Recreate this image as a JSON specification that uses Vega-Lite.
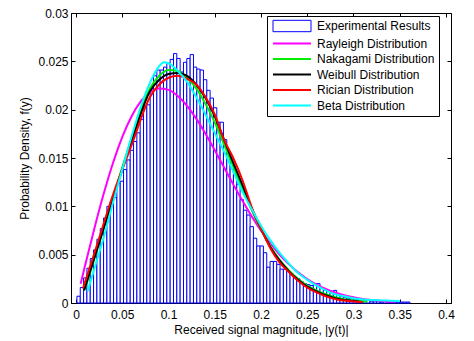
{
  "$schema": "https://vega.github.io/schema/vega-lite/v6.json",
  "width": 380,
  "height": 290,
  "autosize": {"type": "none"},
  "padding": {"left": 71, "top": 13, "right": 23, "bottom": 38},
  "background": "white",
  "datasets": {
    "hist": [
      {"lo":0.001,"hi":0.0046,"h":0.0007},{"lo":0.0046,"hi":0.0082,"h":0.0016},{"lo":0.0082,"hi":0.0118,"h":0.0026},{"lo":0.0118,"hi":0.0154,"h":0.0036},{"lo":0.0154,"hi":0.019,"h":0.0046},
      {"lo":0.019,"hi":0.0226,"h":0.0055},{"lo":0.0226,"hi":0.0262,"h":0.0066},{"lo":0.0262,"hi":0.0298,"h":0.0077},{"lo":0.0298,"hi":0.0334,"h":0.0088},{"lo":0.0334,"hi":0.037,"h":0.0100},
      {"lo":0.037,"hi":0.0406,"h":0.0105},{"lo":0.0406,"hi":0.0442,"h":0.0109},{"lo":0.0442,"hi":0.0478,"h":0.0124},{"lo":0.0478,"hi":0.0514,"h":0.0126},{"lo":0.0514,"hi":0.055,"h":0.0138},
      {"lo":0.055,"hi":0.0586,"h":0.0148},{"lo":0.0586,"hi":0.0622,"h":0.0158},{"lo":0.0622,"hi":0.0658,"h":0.0167},{"lo":0.0658,"hi":0.0694,"h":0.0176},{"lo":0.0694,"hi":0.073,"h":0.0190},
      {"lo":0.073,"hi":0.0766,"h":0.0203},{"lo":0.0766,"hi":0.0802,"h":0.0205},{"lo":0.0802,"hi":0.0838,"h":0.0223},{"lo":0.0838,"hi":0.0874,"h":0.0235},{"lo":0.0874,"hi":0.091,"h":0.0241},
      {"lo":0.091,"hi":0.0946,"h":0.0241},{"lo":0.0946,"hi":0.0982,"h":0.0244},{"lo":0.0982,"hi":0.1018,"h":0.0248},{"lo":0.1018,"hi":0.1054,"h":0.0252},{"lo":0.1054,"hi":0.109,"h":0.0258},
      {"lo":0.109,"hi":0.1126,"h":0.0253},{"lo":0.1126,"hi":0.1162,"h":0.0239},{"lo":0.1162,"hi":0.1198,"h":0.0249},{"lo":0.1198,"hi":0.1234,"h":0.0253},{"lo":0.1234,"hi":0.127,"h":0.0257},
      {"lo":0.127,"hi":0.1306,"h":0.0244},{"lo":0.1306,"hi":0.1342,"h":0.0242},{"lo":0.1342,"hi":0.1378,"h":0.0241},{"lo":0.1378,"hi":0.1414,"h":0.0231},{"lo":0.1414,"hi":0.145,"h":0.0220},
      {"lo":0.145,"hi":0.1486,"h":0.0212},{"lo":0.1486,"hi":0.1522,"h":0.0202},{"lo":0.1522,"hi":0.1558,"h":0.0187},{"lo":0.1558,"hi":0.1594,"h":0.0187},{"lo":0.1594,"hi":0.163,"h":0.0169},
      {"lo":0.163,"hi":0.1666,"h":0.0155},{"lo":0.1666,"hi":0.1702,"h":0.0145},{"lo":0.1702,"hi":0.1738,"h":0.0133},{"lo":0.1738,"hi":0.1774,"h":0.0123},{"lo":0.1774,"hi":0.181,"h":0.0107},
      {"lo":0.181,"hi":0.1846,"h":0.0096},{"lo":0.1846,"hi":0.1882,"h":0.0091},{"lo":0.1882,"hi":0.1918,"h":0.0079},{"lo":0.1918,"hi":0.1954,"h":0.0067},{"lo":0.1954,"hi":0.199,"h":0.0059},
      {"lo":0.199,"hi":0.2026,"h":0.0059},{"lo":0.2026,"hi":0.2062,"h":0.0052},{"lo":0.2062,"hi":0.2098,"h":0.0037},{"lo":0.2098,"hi":0.2134,"h":0.0043},{"lo":0.2134,"hi":0.217,"h":0.0043},
      {"lo":0.217,"hi":0.2206,"h":0.0040},{"lo":0.2206,"hi":0.2242,"h":0.0035},{"lo":0.2242,"hi":0.2278,"h":0.0035},{"lo":0.2278,"hi":0.2314,"h":0.0033},{"lo":0.2314,"hi":0.235,"h":0.0030},
      {"lo":0.235,"hi":0.2386,"h":0.0027},{"lo":0.2386,"hi":0.2422,"h":0.0025},{"lo":0.2422,"hi":0.2458,"h":0.0022},{"lo":0.2458,"hi":0.2494,"h":0.0020},{"lo":0.2494,"hi":0.253,"h":0.0019},
      {"lo":0.253,"hi":0.2566,"h":0.0018},{"lo":0.2566,"hi":0.2602,"h":0.0020},{"lo":0.2602,"hi":0.2638,"h":0.0020},{"lo":0.2638,"hi":0.2674,"h":0.0016},{"lo":0.2674,"hi":0.271,"h":0.0013},
      {"lo":0.271,"hi":0.2746,"h":0.0012},{"lo":0.2746,"hi":0.2782,"h":0.0012},{"lo":0.2782,"hi":0.2818,"h":0.0013},{"lo":0.2818,"hi":0.2854,"h":0.0008},{"lo":0.2854,"hi":0.289,"h":0.0007},
      {"lo":0.289,"hi":0.2926,"h":0.0006},{"lo":0.2926,"hi":0.2962,"h":0.0005},{"lo":0.2962,"hi":0.2998,"h":0.0005},{"lo":0.2998,"hi":0.3034,"h":0.0004},{"lo":0.3034,"hi":0.307,"h":0.0004},
      {"lo":0.307,"hi":0.3106,"h":0.0003},{"lo":0.3106,"hi":0.3142,"h":0.0003},{"lo":0.3142,"hi":0.3178,"h":0.0003},{"lo":0.3178,"hi":0.3214,"h":0.0002},{"lo":0.3214,"hi":0.325,"h":0.0002},
      {"lo":0.325,"hi":0.3286,"h":0.0002},{"lo":0.3286,"hi":0.3322,"h":0.0001},{"lo":0.3322,"hi":0.3358,"h":0.0002},{"lo":0.3358,"hi":0.3394,"h":0.0001},{"lo":0.3394,"hi":0.343,"h":0.0001},
      {"lo":0.343,"hi":0.3466,"h":0.0001},{"lo":0.3466,"hi":0.3502,"h":0.0001},{"lo":0.3502,"hi":0.3538,"h":0.0001},{"lo":0.3538,"hi":0.3574,"h":0.0001},{"lo":0.3574,"hi":0.361,"h":0.0001}
    ],
    "curves": [
      {"d":"Rayleigh Distribution","x":0.005,"y":0.00199},{"d":"Rayleigh Distribution","x":0.01,"y":0.00396},{"d":"Rayleigh Distribution","x":0.02,"y":0.00777},{"d":"Rayleigh Distribution","x":0.03,"y":0.01132},{"d":"Rayleigh Distribution","x":0.04,"y":0.01448},{"d":"Rayleigh Distribution","x":0.05,"y":0.01717},{"d":"Rayleigh Distribution","x":0.06,"y":0.0193},{"d":"Rayleigh Distribution","x":0.07,"y":0.02086},{"d":"Rayleigh Distribution","x":0.08,"y":0.02182},{"d":"Rayleigh Distribution","x":0.09,"y":0.0222},{"d":"Rayleigh Distribution","x":0.1,"y":0.02205},{"d":"Rayleigh Distribution","x":0.11,"y":0.02142},{"d":"Rayleigh Distribution","x":0.12,"y":0.0204},{"d":"Rayleigh Distribution","x":0.13,"y":0.01907},{"d":"Rayleigh Distribution","x":0.14,"y":0.01751},{"d":"Rayleigh Distribution","x":0.15,"y":0.0158},{"d":"Rayleigh Distribution","x":0.16,"y":0.01404},{"d":"Rayleigh Distribution","x":0.17,"y":0.01227},{"d":"Rayleigh Distribution","x":0.18,"y":0.01057},{"d":"Rayleigh Distribution","x":0.19,"y":0.00896},{"d":"Rayleigh Distribution","x":0.2,"y":0.00749},{"d":"Rayleigh Distribution","x":0.21,"y":0.00618},{"d":"Rayleigh Distribution","x":0.22,"y":0.00502},{"d":"Rayleigh Distribution","x":0.23,"y":0.00402},{"d":"Rayleigh Distribution","x":0.24,"y":0.00318},{"d":"Rayleigh Distribution","x":0.25,"y":0.00248},{"d":"Rayleigh Distribution","x":0.26,"y":0.00191},{"d":"Rayleigh Distribution","x":0.27,"y":0.00145},{"d":"Rayleigh Distribution","x":0.28,"y":0.00109},{"d":"Rayleigh Distribution","x":0.29,"y":0.0008},{"d":"Rayleigh Distribution","x":0.3,"y":0.00059},{"d":"Rayleigh Distribution","x":0.31,"y":0.00042},{"d":"Rayleigh Distribution","x":0.32,"y":0.0003},{"d":"Rayleigh Distribution","x":0.33,"y":0.0002},{"d":"Rayleigh Distribution","x":0.345,"y":0.00012},
      {"d":"Nakagami Distribution","x":0.0095,"y":0.0014},{"d":"Nakagami Distribution","x":0.02,"y":0.0046},{"d":"Nakagami Distribution","x":0.04,"y":0.0109},{"d":"Nakagami Distribution","x":0.06,"y":0.017},{"d":"Nakagami Distribution","x":0.08,"y":0.0222},{"d":"Nakagami Distribution","x":0.09,"y":0.0235},{"d":"Nakagami Distribution","x":0.1,"y":0.0241},{"d":"Nakagami Distribution","x":0.11,"y":0.024},{"d":"Nakagami Distribution","x":0.12,"y":0.0233},{"d":"Nakagami Distribution","x":0.13,"y":0.0222},{"d":"Nakagami Distribution","x":0.14,"y":0.0206},{"d":"Nakagami Distribution","x":0.15,"y":0.0187},{"d":"Nakagami Distribution","x":0.16,"y":0.0164},{"d":"Nakagami Distribution","x":0.17,"y":0.0141},{"d":"Nakagami Distribution","x":0.18,"y":0.0118},{"d":"Nakagami Distribution","x":0.19,"y":0.0096},{"d":"Nakagami Distribution","x":0.2,"y":0.0076},{"d":"Nakagami Distribution","x":0.21,"y":0.0059},{"d":"Nakagami Distribution","x":0.22,"y":0.0045},{"d":"Nakagami Distribution","x":0.23,"y":0.0034},{"d":"Nakagami Distribution","x":0.24,"y":0.0025},{"d":"Nakagami Distribution","x":0.25,"y":0.0018},{"d":"Nakagami Distribution","x":0.26,"y":0.0013},{"d":"Nakagami Distribution","x":0.27,"y":0.0009},{"d":"Nakagami Distribution","x":0.28,"y":0.0006},{"d":"Nakagami Distribution","x":0.29,"y":0.0004},{"d":"Nakagami Distribution","x":0.3,"y":0.00025},{"d":"Nakagami Distribution","x":0.315,"y":0.00015},
      {"d":"Weibull Distribution","x":0.0087,"y":0.0013},{"d":"Weibull Distribution","x":0.02,"y":0.0047},{"d":"Weibull Distribution","x":0.04,"y":0.0108},{"d":"Weibull Distribution","x":0.06,"y":0.0167},{"d":"Weibull Distribution","x":0.08,"y":0.0219},{"d":"Weibull Distribution","x":0.09,"y":0.0231},{"d":"Weibull Distribution","x":0.1,"y":0.0237},{"d":"Weibull Distribution","x":0.11,"y":0.0238},{"d":"Weibull Distribution","x":0.12,"y":0.0235},{"d":"Weibull Distribution","x":0.13,"y":0.0226},{"d":"Weibull Distribution","x":0.14,"y":0.0212},{"d":"Weibull Distribution","x":0.15,"y":0.0193},{"d":"Weibull Distribution","x":0.16,"y":0.0169},{"d":"Weibull Distribution","x":0.17,"y":0.0145},{"d":"Weibull Distribution","x":0.18,"y":0.0122},{"d":"Weibull Distribution","x":0.19,"y":0.0098},{"d":"Weibull Distribution","x":0.2,"y":0.0077},{"d":"Weibull Distribution","x":0.21,"y":0.0058},{"d":"Weibull Distribution","x":0.22,"y":0.0044},{"d":"Weibull Distribution","x":0.23,"y":0.0033},{"d":"Weibull Distribution","x":0.24,"y":0.0024},{"d":"Weibull Distribution","x":0.25,"y":0.0017},{"d":"Weibull Distribution","x":0.26,"y":0.0012},{"d":"Weibull Distribution","x":0.27,"y":0.0008},{"d":"Weibull Distribution","x":0.28,"y":0.0005},{"d":"Weibull Distribution","x":0.29,"y":0.0003},{"d":"Weibull Distribution","x":0.3,"y":0.0002},{"d":"Weibull Distribution","x":0.306,"y":0.00015},
      {"d":"Rician Distribution","x":0.0075,"y":0.0015},{"d":"Rician Distribution","x":0.02,"y":0.0052},{"d":"Rician Distribution","x":0.04,"y":0.0112},{"d":"Rician Distribution","x":0.06,"y":0.0163},{"d":"Rician Distribution","x":0.08,"y":0.0213},{"d":"Rician Distribution","x":0.09,"y":0.0226},{"d":"Rician Distribution","x":0.1,"y":0.0233},{"d":"Rician Distribution","x":0.11,"y":0.0235},{"d":"Rician Distribution","x":0.12,"y":0.0232},{"d":"Rician Distribution","x":0.13,"y":0.0226},{"d":"Rician Distribution","x":0.14,"y":0.0213},{"d":"Rician Distribution","x":0.15,"y":0.0195},{"d":"Rician Distribution","x":0.16,"y":0.0169},{"d":"Rician Distribution","x":0.17,"y":0.015},{"d":"Rician Distribution","x":0.18,"y":0.0127},{"d":"Rician Distribution","x":0.19,"y":0.0099},{"d":"Rician Distribution","x":0.2,"y":0.0077},{"d":"Rician Distribution","x":0.21,"y":0.0057},{"d":"Rician Distribution","x":0.22,"y":0.0042},{"d":"Rician Distribution","x":0.23,"y":0.0032},{"d":"Rician Distribution","x":0.24,"y":0.0023},{"d":"Rician Distribution","x":0.25,"y":0.0016},{"d":"Rician Distribution","x":0.26,"y":0.0011},{"d":"Rician Distribution","x":0.27,"y":0.0007},{"d":"Rician Distribution","x":0.28,"y":0.0004},{"d":"Rician Distribution","x":0.29,"y":0.00025},{"d":"Rician Distribution","x":0.3,"y":0.00015},{"d":"Rician Distribution","x":0.31,"y":0.0001},
      {"d":"Beta Distribution","x":0.0125,"y":0.0012},{"d":"Beta Distribution","x":0.02,"y":0.0036},{"d":"Beta Distribution","x":0.03,"y":0.0068},{"d":"Beta Distribution","x":0.04,"y":0.0104},{"d":"Beta Distribution","x":0.05,"y":0.0138},{"d":"Beta Distribution","x":0.06,"y":0.0172},{"d":"Beta Distribution","x":0.07,"y":0.0203},{"d":"Beta Distribution","x":0.08,"y":0.0228},{"d":"Beta Distribution","x":0.09,"y":0.0245},{"d":"Beta Distribution","x":0.095,"y":0.0249},{"d":"Beta Distribution","x":0.1,"y":0.0248},{"d":"Beta Distribution","x":0.11,"y":0.024},{"d":"Beta Distribution","x":0.12,"y":0.0229},{"d":"Beta Distribution","x":0.13,"y":0.0213},{"d":"Beta Distribution","x":0.14,"y":0.0195},{"d":"Beta Distribution","x":0.15,"y":0.0176},{"d":"Beta Distribution","x":0.16,"y":0.0157},{"d":"Beta Distribution","x":0.17,"y":0.0136},{"d":"Beta Distribution","x":0.18,"y":0.0115},{"d":"Beta Distribution","x":0.19,"y":0.0097},{"d":"Beta Distribution","x":0.2,"y":0.008},{"d":"Beta Distribution","x":0.21,"y":0.0065},{"d":"Beta Distribution","x":0.22,"y":0.0052},{"d":"Beta Distribution","x":0.23,"y":0.0041},{"d":"Beta Distribution","x":0.24,"y":0.0031},{"d":"Beta Distribution","x":0.25,"y":0.0024},{"d":"Beta Distribution","x":0.26,"y":0.0018},{"d":"Beta Distribution","x":0.27,"y":0.0013},{"d":"Beta Distribution","x":0.28,"y":0.0009},{"d":"Beta Distribution","x":0.29,"y":0.0007},{"d":"Beta Distribution","x":0.3,"y":0.0005},{"d":"Beta Distribution","x":0.32,"y":0.0003},{"d":"Beta Distribution","x":0.35,"y":0.0002}
    ]
  },
  "layer": [
    {
      "data": {"name": "hist"},
      "mark": {"type": "bar", "fill": "white", "strokeWidth": 1, "cornerRadius": 0, "orient": "vertical"},
      "encoding": {
        "x": {"field": "lo", "type": "quantitative",
              "scale": {"domain": [0, 0.4], "nice": false, "zero": false},
              "axis": {"orient": "bottom", "values": [0,0.05,0.1,0.15,0.2,0.25,0.3,0.35,0.4], "format": "~g", "title": "Received signal magnitude, |y(t)|", "titlePadding": 4, "labelPadding": 10}},
        "x2": {"field": "hi"},
        "y": {"field": "h", "type": "quantitative",
              "scale": {"domain": [0, 0.03], "nice": false},
              "axis": {"orient": "left", "values": [0,0.005,0.01,0.015,0.02,0.025,0.03], "format": "~g", "title": "Probability Density, f(y)", "titlePadding": 6}},
        "y2": {"datum": 0},
        "stroke": {"datum": "Experimental Results", "type": "nominal"}
      }
    },
    {
      "data": {"name": "curves"},
      "mark": {"type": "line", "strokeWidth": 2, "interpolate": "monotone"},
      "encoding": {
        "x": {"field": "x", "type": "quantitative",
              "axis": {"orient": "top", "values": [0,0.05,0.1,0.15,0.2,0.25,0.3,0.35,0.4], "labels": false, "title": null, "domain": false}},
        "y": {"field": "y", "type": "quantitative",
              "axis": {"orient": "right", "values": [0,0.005,0.01,0.015,0.02,0.025,0.03], "labels": false, "title": null, "domain": false}},
        "stroke": {"field": "d", "type": "nominal",
          "scale": {"domain": ["Experimental Results","Rayleigh Distribution","Nakagami Distribution","Weibull Distribution","Rician Distribution","Beta Distribution"],
                    "range": ["#0000ff","#ff00ff","#00ee00","#000000","#ff0000","#00ffff"]},
          "legend": {
            "title": null, "orient": "none", "legendX": 196, "legendY": 3,
            "padding": 4, "strokeColor": "black", "fillColor": "white",
            "symbolType": "stroke", "symbolSize": 1444, "symbolStrokeWidth": 2,
            "symbolOffset": 15,
            "labelFont": "Liberation Sans", "labelFontSize": 12, "labelColor": "black",
            "labelOffset": 19, "rowPadding": 3.5, "labelLimit": 300,
            "encode": {"symbols": {"update": {
              "shape": {"signal": "datum.value === 'Experimental Results' ? 'M-1,-0.3H1V0.3H-1Z' : 'stroke'"},
              "strokeWidth": {"signal": "datum.value === 'Experimental Results' ? 1 : 2"}
            }}}
          }
        },
        "order": {"field": "x", "type": "quantitative"}
      }
    }
  ],
  "resolve": {"axis": {"x": "independent", "y": "independent"}},
  "config": {
    "view": {"stroke": "black", "strokeWidth": 1},
    "axis": {"grid": false, "domainColor": "black", "tickColor": "black", "labelColor": "black", "titleColor": "black",
             "labelFont": "Liberation Sans", "titleFont": "Liberation Sans", "labelFontSize": 12, "titleFontSize": 12,
             "titleFontWeight": "normal", "tickSize": -4, "labelPadding": 7}
  }
}
